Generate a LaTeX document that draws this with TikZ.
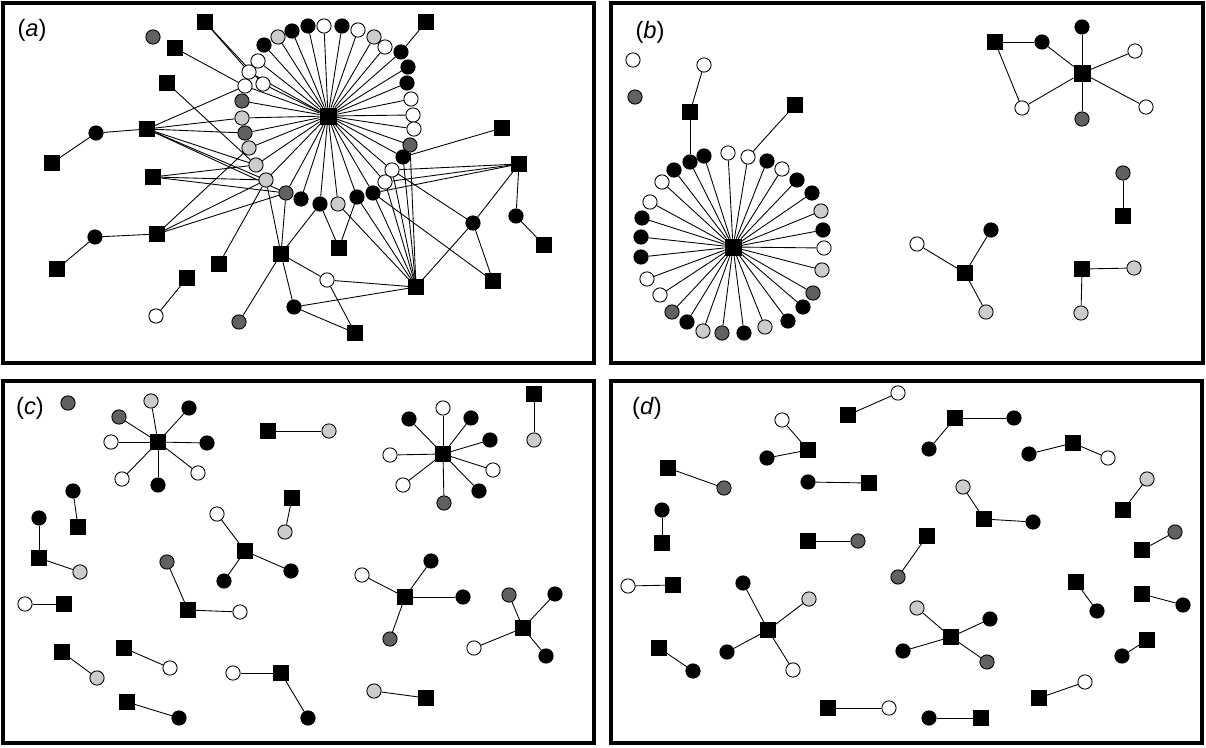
\documentclass[tikz,border=0pt]{standalone}
\usepackage{fontspec}
\setmainfont{Liberation Sans}
\usetikzlibrary{backgrounds}
\definecolor{grigiochiaro}{gray}{0.8}
\definecolor{grigioscuro}{gray}{0.38}
\begin{document}
\begin{tikzpicture}[x=0.02cm,y=-0.02cm,
    quad/.style={draw=black,fill=black,rectangle,inner sep=0pt,minimum size=0.29cm},
    perno/.style={quad,minimum size=0.32cm},
    cerchio/.style={draw=black,circle,inner sep=0pt,minimum size=0.285cm,line width=0.5pt},
    nero/.style={cerchio,fill=black},
    bianco/.style={cerchio,fill=white},
    chiaro/.style={cerchio,fill=grigiochiaro},
    scuro/.style={cerchio,fill=grigioscuro},
    legame/.style={line width=0.5pt},
    pannello/.style={line width=1.8pt},
    etichetta/.style={font=\fontsize{13.5}{15}\selectfont}]
        \useasboundingbox (0,0) rectangle (1206,747);
        %disegno cornici
        \draw[pannello] (3,3) rectangle (594,363);
        \draw[pannello] (611,3) rectangle (1203,363);
        \draw[pannello] (3,381) rectangle (594,743);
        \draw[pannello] (611,381) rectangle (1202,743);
        %scrivo etichette
        \node[etichetta] (la) at (32,30) {(\textit{a})};
        \node[etichetta] (lb) at (650,32) {(\textit{b})};
        \node[etichetta] (lc) at (30,408) {(\textit{c})};
        \node[etichetta] (ld) at (647,408) {(\textit{d})};

        %pannello (a): anello attorno al perno
        \node[perno] (ha) at (328,116) {};
        \foreach \n/\x/\y/\col in {1/264/45/nero,2/278/37/chiaro,3/292/31/nero,4/308/26/nero,
            5/324/26/bianco,6/342/26/nero,7/358/30/bianco,8/374/37/chiaro,9/385/47/bianco,
            10/401/52/nero,11/408/67/nero,12/407/83/nero,13/411/99/bianco,14/413/115/bianco,
            15/414/129/bianco,16/410/145/scuro,17/403/157/nero,18/392/170/bianco,19/385/182/bianco,
            20/373/193/nero,21/357/197/nero,22/338/204/chiaro,23/320/204/nero,24/301/199/nero,
            25/286/193/scuro,26/266/180/chiaro,27/256/165/chiaro,28/249/148/chiaro,29/245/133/scuro,
            30/242/118/chiaro,31/242/101/scuro,32/245/86/bianco,33/263/84/bianco,34/249/72/bianco,
            35/258/61/bianco}
            \node[\col] (ra\n) at (\x,\y) {};
        %pannello (a): quadrati e cerchi sparsi
        \foreach \n/\x/\y in {1/205/22,2/175/48,3/167/83,4/147/129,5/52/163,6/153/177,7/157/234,
            8/57/269,9/219/264,10/187/278,11/281/254,12/339/248,13/416/287,14/355/333,15/519/164,
            16/544/245,17/493/281,18/502/128,19/426/22}
            \node[quad] (qa\n) at (\x,\y) {};
        \foreach \n/\x/\y/\col in {1/96/133/nero,2/95/237/nero,3/156/316/bianco,4/239/322/scuro,
            5/294/307/nero,6/327/280/bianco,7/473/223/nero,8/516/216/nero,9/153/37/scuro}
            \node[\col] (ca\n) at (\x,\y) {};
        \begin{pgfonlayer}{background}
            \foreach \n in {1,...,35} \draw[legame] (ha) -- (ra\n);
            \foreach \u/\v in {qa1/ra34,qa1/ra33,qa2/ra32,qa3/ra27,qa4/ca1,qa4/ra32,qa4/ra30,
                qa4/ra29,qa4/ra27,qa4/ra26,qa4/ra25,ca1/qa5,qa6/ra27,qa6/ra26,qa6/ra25,qa7/ra28,
                qa7/ra26,qa7/ra25,qa7/ca2,ca2/qa8,qa9/ra26,qa10/ca3,qa11/ra26,qa11/ra25,qa11/ra23,
                qa11/ca4,qa11/ca5,qa11/ca6,qa12/ra23,qa12/ra21,qa13/ra22,qa13/ra21,qa13/ra20,
                qa13/ra19,qa13/ra18,qa13/ra17,qa13/ra16,qa13/ca6,qa13/ca5,qa13/ca7,qa14/ca6,
                qa14/ca5,qa15/ra18,qa15/ra19,qa15/ra20,qa15/ca7,qa15/ca8,ca8/qa16,qa17/ca7,
                qa17/ra20,ca7/ra18,qa18/ra17,qa19/ra10}
                \draw[legame] (\u) -- (\v);
        \end{pgfonlayer}

        %pannello (b): anello attorno al perno
        \node[perno] (hb) at (733,247) {};
        \foreach \n/\x/\y/\col in {1/690/162/nero,2/704/156/nero,3/728/153/bianco,4/748/157/bianco,
            5/767/161/nero,6/782/169/bianco,7/797/180/nero,8/812/193/nero,9/821/211/chiaro,
            10/823/230/nero,11/824/248/bianco,12/822/270/chiaro,13/813/293/scuro,14/803/307/nero,
            15/788/321/nero,16/765/327/chiaro,17/744/333/nero,18/722/333/scuro,19/703/331/chiaro,
            20/687/322/nero,21/672/312/scuro,22/660/295/bianco,23/647/279/bianco,24/641/257/nero,
            25/641/237/nero,26/642/218/nero,27/650/202/bianco,28/662/182/bianco,29/674/170/nero}
            \node[\col] (rb\n) at (\x,\y) {};
        %pannello (b): gruppi piccoli
        \foreach \n/\x/\y in {1/690/112,2/795/105,3/995/42,5/1123/216,6/965/273,7/1082/269}
            \node[quad] (qb\n) at (\x,\y) {};
        \node[perno] (qb4) at (1082,73) {};
        \foreach \n/\x/\y/\col in {1/633/60/bianco,2/635/97/scuro,3/704/65/bianco,4/1042/42/nero,
            5/1082/27/nero,6/1135/51/bianco,7/1146/107/bianco,8/1022/108/bianco,9/1082/119/scuro,
            10/1123/173/scuro,11/991/230/nero,12/917/244/bianco,13/986/312/chiaro,
            14/1134/268/chiaro,15/1081/313/chiaro}
            \node[\col] (cb\n) at (\x,\y) {};
        \begin{pgfonlayer}{background}
            \foreach \n in {1,...,29} \draw[legame] (hb) -- (rb\n);
            \foreach \u/\v in {qb1/cb3,qb1/rb1,qb2/rb4,qb3/cb4,qb3/cb8,qb4/cb4,qb4/cb5,qb4/cb6,
                qb4/cb7,qb4/cb8,qb4/cb9,qb5/cb10,qb6/cb11,qb6/cb12,qb6/cb13,qb7/cb14,qb7/cb15}
                \draw[legame] (\u) -- (\v);
        \end{pgfonlayer}

        %pannello (c)
        \foreach \n/\x/\y in {1/158/442,2/268/431,3/78/527,4/39/558,5/64/604,6/292/498,7/245/551,
            8/188/610,9/62/652,10/124/648,11/281/673,12/127/702,13/443/454,14/534/394,15/405/597,
            16/523/628,17/426/698}
            \node[quad] (qc\n) at (\x,\y) {};
        \foreach \n/\x/\y/\col in {1/68/403/scuro,2/151/401/chiaro,3/119/417/scuro,4/189/408/nero,
            5/111/442/bianco,6/207/443/nero,7/122/479/bianco,8/158/485/nero,9/198/473/bianco,
            10/329/431/chiaro,11/73/491/nero,12/39/518/nero,13/80/572/chiaro,14/25/604/bianco,
            15/285/532/chiaro,16/217/514/bianco,17/224/581/nero,18/291/571/nero,19/167/562/scuro,
            20/240/612/bianco,21/97/678/chiaro,22/170/668/bianco,23/233/673/bianco,24/308/718/nero,
            25/179/718/nero,26/443/408/bianco,27/409/419/nero,28/471/418/nero,29/490/440/nero,
            30/390/455/bianco,31/493/470/bianco,32/403/485/bianco,33/479/491/nero,34/444/503/scuro,
            35/534/440/chiaro,36/362/575/bianco,37/431/561/nero,38/463/597/nero,39/390/639/scuro,
            40/509/595/scuro,41/555/594/nero,42/474/648/bianco,43/546/656/nero,44/374/691/chiaro}
            \node[\col] (cc\n) at (\x,\y) {};
        \begin{pgfonlayer}{background}
            \foreach \q/\c in {1/2,1/3,1/4,1/5,1/6,1/7,1/8,1/9,2/10,3/11,4/12,4/13,5/14,6/15,7/16,
                7/17,7/18,8/19,8/20,9/21,10/22,11/23,11/24,12/25,13/26,13/27,13/28,13/29,13/30,
                13/31,13/32,13/33,13/34,14/35,15/36,15/37,15/38,15/39,16/40,16/41,16/42,16/43,17/44}
                \draw[legame] (qc\q) -- (cc\c);
        \end{pgfonlayer}

        %pannello (d)
        \foreach \n/\x/\y in {1/848/415,2/808/450,3/668/468,4/869/483,5/662/543,6/808/541,7/673/585,
            8/768/630,9/659/648,10/828/708,11/927/536,12/955/418,13/1073/443,14/984/519,
            15/1123/510,16/1142/550,17/1076/582,18/1142/594,19/951/637,20/1147/640,21/1039/698,
            22/981/718}
            \node[quad] (qd\n) at (\x,\y) {};
        \foreach \n/\x/\y/\col in {1/898/393/bianco,2/782/420/bianco,3/767/458/nero,4/724/488/scuro,
            5/808/482/nero,6/662/510/nero,7/858/541/scuro,8/628/586/bianco,9/743/583/nero,
            10/809/599/chiaro,11/727/652/nero,12/793/670/bianco,13/693/671/nero,14/889/708/bianco,
            15/898/577/scuro,16/1014/418/nero,17/929/449/nero,18/1029/454/nero,19/1108/458/bianco,
            20/963/487/chiaro,21/1033/522/nero,22/1147/479/chiaro,23/1175/532/scuro,
            24/1097/611/nero,25/1183/605/nero,26/917/608/chiaro,27/990/619/nero,28/903/651/nero,
            29/987/662/scuro,30/1122/656/nero,31/1085/682/bianco,32/929/718/nero}
            \node[\col] (cd\n) at (\x,\y) {};
        \begin{pgfonlayer}{background}
            \foreach \q/\c in {1/1,2/2,2/3,3/4,4/5,5/6,6/7,7/8,8/9,8/10,8/11,8/12,9/13,10/14,11/15,
                12/16,12/17,13/18,13/19,14/20,14/21,15/22,16/23,17/24,18/25,19/26,19/27,19/28,
                19/29,20/30,21/31,22/32}
                \draw[legame] (qd\q) -- (cd\c);
        \end{pgfonlayer}
\end{tikzpicture}
\end{document}
